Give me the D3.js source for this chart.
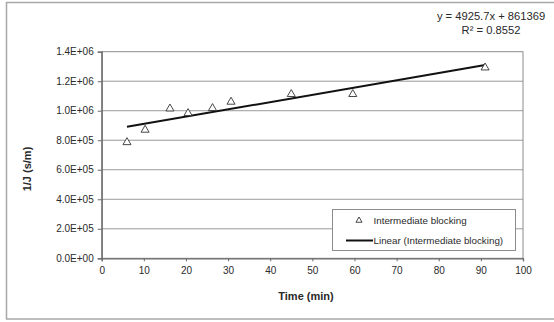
<!DOCTYPE html>
<html>
<head>
<meta charset="utf-8">
<script src="https://cdn.jsdelivr.net/npm/d3@7"></script>
<style>
  body { margin: 0; background: #fff; }
  text { font-family: "Liberation Sans", Arial, sans-serif; fill: #2a2a2a; }
</style>
</head>
<body>
<svg id="chart"></svg>
<script>
// data
const timeMin = [6, 10.3, 16.2, 20.5, 26.3, 30.7, 45, 59.6, 91];
const invFlux = [786000, 870000, 1014000, 983000, 1017000, 1060000, 1112000, 1112000, 1292000];
const trendCoef = [4925.7, 861369];   // slope, intercept
const trendLabel = ["y = 4925.7x + 861369", "R\u00b2 = 0.8552"];
const xTicks = [0, 10, 20, 30, 40, 50, 60, 70, 80, 90, 100];
const yTicks = [0, 200000, 400000, 600000, 800000, 1000000, 1200000, 1400000];
const yTickLabels = ["0.0E+00", "2.0E+05", "4.0E+05", "6.0E+05", "8.0E+05", "1.0E+06", "1.2E+06", "1.4E+06"];
const legendNames = ["Intermediate blocking", "Linear (Intermediate blocking)"];

const width = 554, height = 322;
const margin = {top: 51.7, right: 31, bottom: 63.7, left: 101.7};
const d3svg = d3.select("#chart").attr("width", width).attr("height", height);

// outer chart frame
d3svg.append("rect")
    .attr("x", 6.5).attr("y", 2.5)
    .attr("width", 560).attr("height", 316.5)
    .attr("fill", "none").attr("stroke", "#a8a8a8").attr("stroke-width", 1.5);

const x = d3.scaleLinear().domain([0, 100]).range([margin.left, width - margin.right]);
const y = d3.scaleLinear().domain([0, 1400000]).range([height - margin.bottom, margin.top]);

// gridlines
d3svg.append("g")
    .selectAll("line")
    .data(yTicks.slice(1, -1))
    .join("line")
    .attr("x1", x(0)).attr("x2", x(100))
    .attr("y1", d => y(d)).attr("y2", d => y(d))
    .attr("stroke", "#9a9a9a").attr("stroke-width", 1);

// plot frame
d3svg.append("rect")
    .attr("x", x(0)).attr("y", y(1400000))
    .attr("width", x(100) - x(0)).attr("height", y(0) - y(1400000))
    .attr("fill", "none").attr("stroke", "#8c8c8c").attr("stroke-width", 1);

// axes
const xAxis = d3.axisBottom(x).tickValues(xTicks).tickSize(3).tickPadding(6).tickFormat(d3.format("d"));
const yAxis = d3.axisLeft(y).tickValues(yTicks).tickSize(4).tickPadding(4)
    .tickFormat((d, i) => yTickLabels[i]);

const gx = d3svg.append("g")
    .attr("transform", "translate(0," + y(0) + ")")
    .call(xAxis);
const gy = d3svg.append("g")
    .attr("transform", "translate(" + x(0) + ",0)")
    .call(yAxis);

[gx, gy].forEach(g => {
    g.select(".domain").attr("stroke", "#6a6a6a").attr("stroke-width", 1.3);
    g.selectAll(".tick line").attr("stroke", "#6a6a6a");
    g.selectAll(".tick text")
        .style("font-family", "'Liberation Sans', Arial, sans-serif")
        .style("font-size", "10px").attr("fill", "#2a2a2a");
});

// axis titles
d3svg.append("text")
    .attr("x", 306).attr("y", 300)
    .attr("text-anchor", "middle")
    .style("font-size", "11px").style("font-weight", "bold")
    .text("Time (min)");

d3svg.append("text")
    .attr("transform", "translate(31," + 169 + ") rotate(-90)")
    .attr("text-anchor", "middle")
    .style("font-size", "11px").style("font-weight", "bold")
    .text("1/J (s/m)");

// trend line across the data range
const tExt = d3.extent(timeMin);
const trendPts = tExt.map(t => [t, trendCoef[0] * t + trendCoef[1]]);
const line = d3.line().x(d => x(d[0])).y(d => y(d[1]));
d3svg.append("path")
    .datum(trendPts)
    .attr("d", line)
    .attr("fill", "none").attr("stroke", "#111").attr("stroke-width", 2);

// triangle markers
const tri = d3.symbol().type(d3.symbolTriangle).size(28);
d3svg.append("g")
    .selectAll("path")
    .data(timeMin.map((t, i) => [t, invFlux[i]]))
    .join("path")
    .attr("d", tri)
    .attr("transform", d => "translate(" + x(d[0]) + "," + y(d[1]) + ")")
    .attr("fill", "#fff").attr("stroke", "#333").attr("stroke-width", 0.9);

// equation label
const eq = d3svg.append("g").style("font-size", "11.2px");
eq.selectAll("text")
    .data(trendLabel)
    .join("text")
    .attr("x", 491).attr("y", (d, i) => 20 + i * 14)
    .attr("text-anchor", "middle")
    .text(d => d);

// legend
const legend = d3svg.append("g");
legend.append("rect")
    .attr("x", 332.5).attr("y", 209.5)
    .attr("width", 183).attr("height", 41)
    .attr("fill", "#fff").attr("stroke", "#8c8c8c").attr("stroke-width", 1);
legend.append("path")
    .attr("d", d3.symbol().type(d3.symbolTriangle).size(16))
    .attr("transform", "translate(359,220.5)")
    .attr("fill", "#fff").attr("stroke", "#333").attr("stroke-width", 0.9);
legend.append("line")
    .attr("x1", 346).attr("x2", 373)
    .attr("y1", 240.5).attr("y2", 240.5)
    .attr("stroke", "#111").attr("stroke-width", 2);
legend.selectAll("text")
    .data(legendNames)
    .join("text")
    .attr("x", 373.5).attr("y", (d, i) => 223.8 + i * 20.5)
    .style("font-size", "9.8px")
    .text(d => d);
</script>
</body>
</html>
